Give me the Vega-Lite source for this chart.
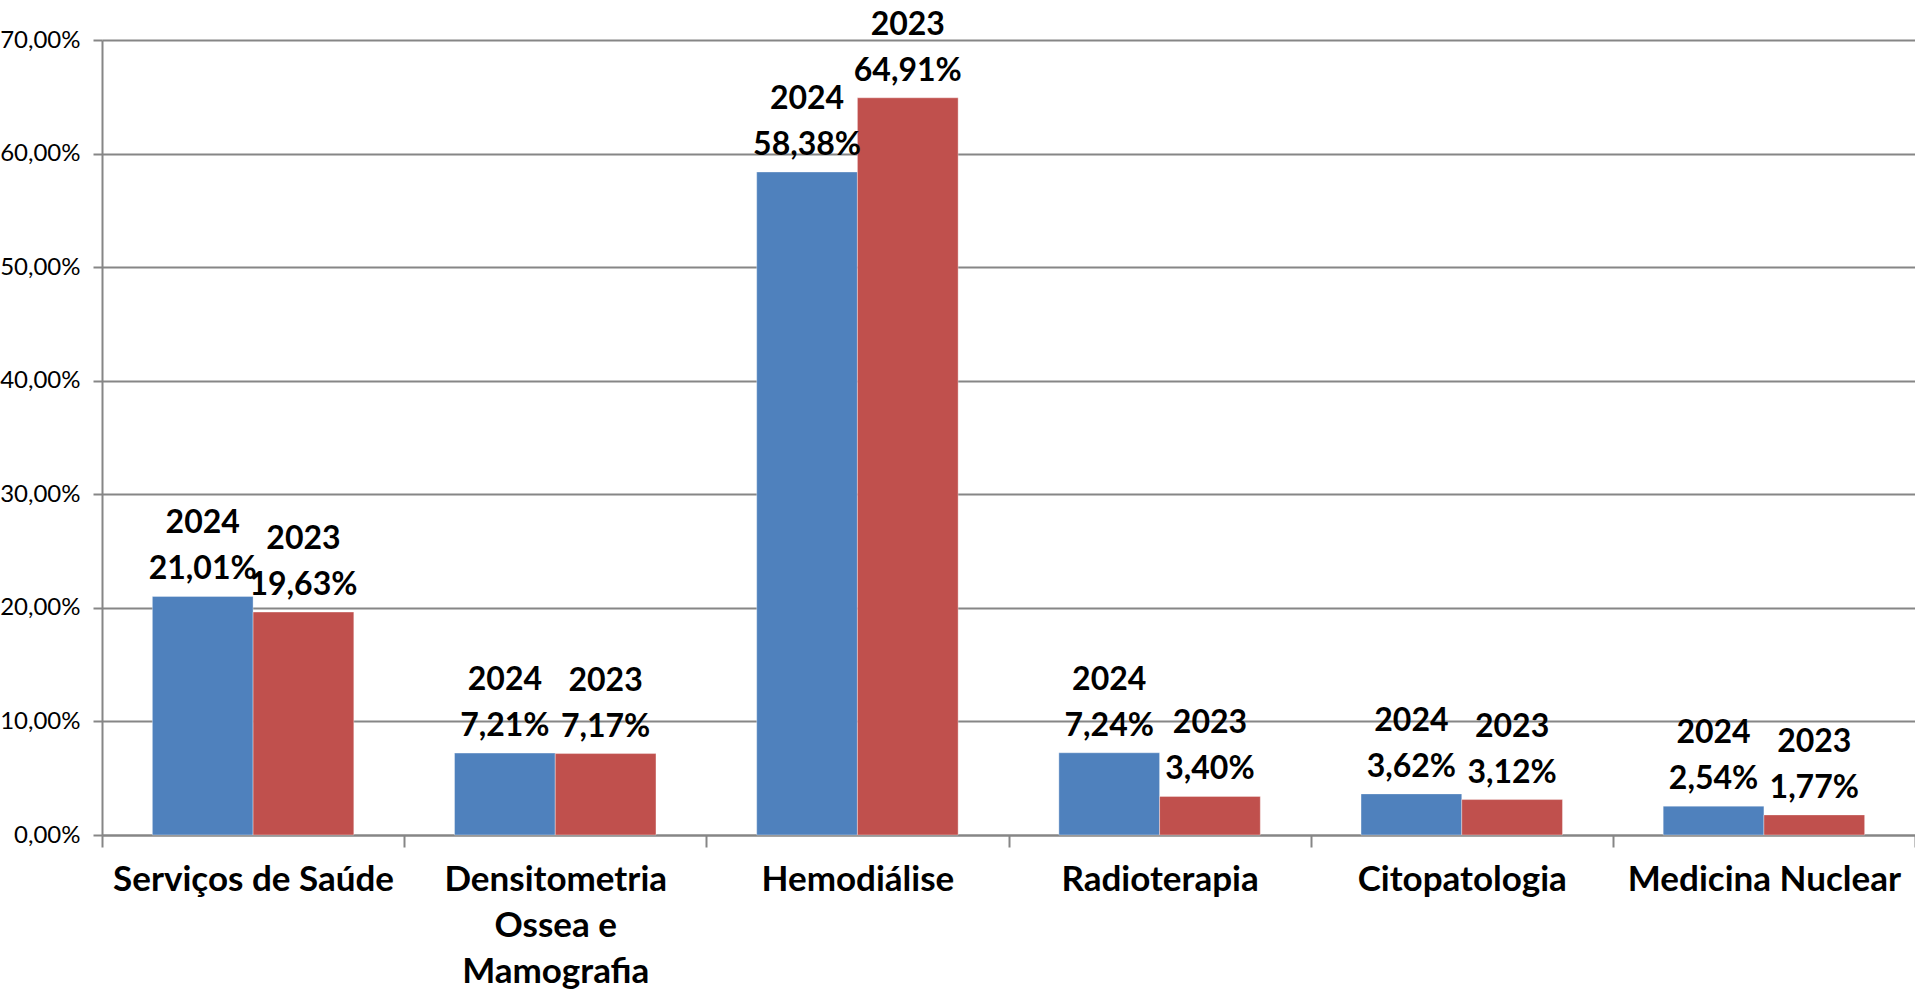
{
  "$schema": "https://vega.github.io/schema/vega-lite/v6.json",
  "width": 1813,
  "height": 795,
  "autosize": {"type": "none"},
  "padding": {"left": 102, "top": 40, "right": 0, "bottom": 157},
  "background": "white",
  "data": {
    "values": [
      {"categoria": "Serviços de Saúde", "ano": "2024", "valor": 21.01},
      {"categoria": "Serviços de Saúde", "ano": "2023", "valor": 19.63},
      {"categoria": "Densitometria Ossea e Mamografia", "ano": "2024", "valor": 7.21},
      {"categoria": "Densitometria Ossea e Mamografia", "ano": "2023", "valor": 7.17},
      {"categoria": "Hemodiálise", "ano": "2024", "valor": 58.38},
      {"categoria": "Hemodiálise", "ano": "2023", "valor": 64.91},
      {"categoria": "Radioterapia", "ano": "2024", "valor": 7.24},
      {"categoria": "Radioterapia", "ano": "2023", "valor": 3.40},
      {"categoria": "Citopatologia", "ano": "2024", "valor": 3.62},
      {"categoria": "Citopatologia", "ano": "2023", "valor": 3.12},
      {"categoria": "Medicina Nuclear", "ano": "2024", "valor": 2.54},
      {"categoria": "Medicina Nuclear", "ano": "2023", "valor": 1.77}
    ]
  },
  "transform": [
    {"calculate": "datum.ano + '\\n' + replace(format(datum.valor, '.2f'), '.', ',') + '%'", "as": "rotulo"}
  ],
  "encoding": {
    "x": {
      "field": "categoria",
      "type": "nominal",
      "sort": null,
      "scale": {"paddingInner": 0, "paddingOuter": 0},
      "axis": {
        "title": null,
        "labelAngle": 0,
        "labelFont": "Lato",
        "labelFontSize": 35,
        "labelFontWeight": "bold",
        "labelColor": "black",
        "labelPadding": 15,
        "labelLineHeight": 46,
        "labelExpr": "datum.label == 'Densitometria Ossea e Mamografia' ? ['Densitometria', 'Ossea e', 'Mamografia'] : datum.label",
        "labelLimit": 400,
        "tickBand": "extent",
        "tickSize": 12,
        "tickWidth": 2,
        "tickColor": "#868686",
        "domainColor": "#868686",
        "domainWidth": 2,
        "grid": false
      }
    },
    "xOffset": {
      "field": "ano",
      "type": "nominal",
      "sort": ["2024", "2023"],
      "scale": {"paddingInner": 0, "paddingOuter": 0.5}
    },
    "y": {
      "field": "valor",
      "type": "quantitative",
      "scale": {"domain": [0, 70], "nice": false},
      "axis": {
        "title": null,
        "values": [0, 10, 20, 30, 40, 50, 60, 70],
        "labelExpr": "replace(format(datum.value, '.2f'), '.', ',') + '%'",
        "labelFont": "Lato",
        "labelFontSize": 24,
        "labelColor": "black",
        "labelPadding": 13,
        "tickSize": 9,
        "tickWidth": 2,
        "tickColor": "#868686",
        "domainColor": "#868686",
        "domainWidth": 2,
        "gridColor": "#868686",
        "gridWidth": 2
      }
    }
  },
  "layer": [
    {
      "mark": {"type": "bar", "stroke": "#ffffff", "strokeOpacity": 0.35, "strokeWidth": 1},
      "encoding": {
        "color": {
          "field": "ano",
          "type": "nominal",
          "scale": {"domain": ["2024", "2023"], "range": ["#4F81BD", "#C0504D"]},
          "legend": null
        }
      }
    },
    {
      "mark": {
        "type": "text",
        "font": "Lato",
        "fontSize": 32,
        "fontWeight": "bold",
        "color": "black",
        "baseline": "bottom",
        "lineBreak": "\n",
        "lineHeight": 46,
        "dy": -56
      },
      "encoding": {
        "text": {"field": "rotulo"}
      }
    }
  ],
  "config": {
    "view": {"stroke": null}
  }
}
